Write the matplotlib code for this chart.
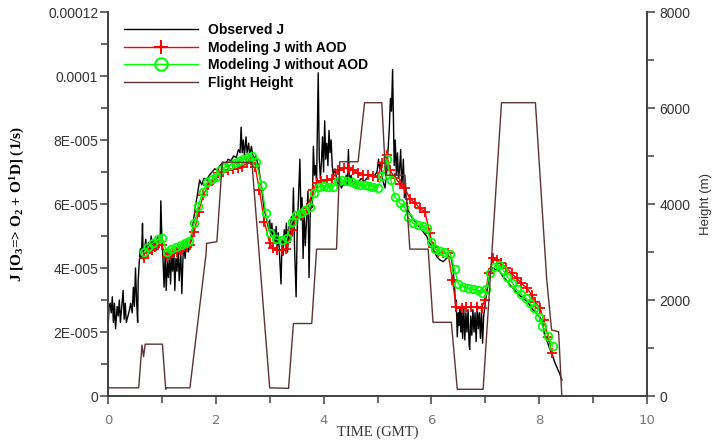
import numpy as np
import matplotlib
matplotlib.use("Agg")
import matplotlib.pyplot as plt
from matplotlib.lines import Line2D
from matplotlib.ticker import MultipleLocator

# observed J (units of 1e-5 1/s)
obs_t = [0.00, 0.02, 0.04, 0.06, 0.08, 0.10, 0.12, 0.14, 0.17, 0.19, 0.21, 0.23, 0.25, 0.28, 0.30,
         0.32, 0.34, 0.37, 0.40, 0.42, 0.45, 0.47, 0.49, 0.51, 0.53, 0.55, 0.56, 0.58, 0.60, 0.62,
         0.64, 0.65, 0.67, 0.70, 0.72, 0.75, 0.78, 0.80, 0.83, 0.86, 0.89, 0.92, 0.95, 0.97, 0.98,
         1.00, 1.02, 1.04, 1.06, 1.08, 1.10, 1.12, 1.14, 1.16, 1.18, 1.20, 1.22, 1.24, 1.26, 1.28,
         1.30, 1.32, 1.35, 1.37, 1.40, 1.43, 1.46, 1.49, 1.52, 1.55, 1.58, 1.62, 1.66, 1.70, 1.74,
         1.78, 1.83, 1.88, 1.93, 1.98, 2.03, 2.08, 2.13, 2.18, 2.23, 2.28, 2.33, 2.38, 2.42, 2.45,
         2.47, 2.49, 2.51, 2.53, 2.56, 2.58, 2.61, 2.63, 2.66, 2.70, 2.74, 2.79, 2.85, 2.90, 2.95,
         2.98, 3.00, 3.02, 3.04, 3.06, 3.08, 3.10, 3.12, 3.14, 3.16, 3.18, 3.21, 3.23, 3.25, 3.27,
         3.29, 3.31, 3.33, 3.36, 3.38, 3.40, 3.42, 3.44, 3.46, 3.49, 3.51, 3.53, 3.56, 3.58, 3.60,
         3.62, 3.64, 3.66, 3.68, 3.71, 3.73, 3.75, 3.77, 3.79, 3.81, 3.83, 3.85, 3.87, 3.90, 3.92,
         3.94, 3.96, 3.98, 4.00, 4.02, 4.04, 4.06, 4.08, 4.10, 4.12, 4.14, 4.16, 4.18, 4.21, 4.24,
         4.27, 4.30, 4.33, 4.36, 4.39, 4.42, 4.44, 4.46, 4.48, 4.51, 4.55, 4.58, 4.61, 4.65, 4.70,
         4.75, 4.80, 4.85, 4.90, 4.95, 4.99, 5.02, 5.04, 5.06, 5.09, 5.12, 5.14, 5.17, 5.20, 5.22,
         5.24, 5.26, 5.28, 5.30, 5.31, 5.33, 5.35, 5.37, 5.39, 5.41, 5.43, 5.45, 5.48, 5.50, 5.52,
         5.54, 5.57, 5.60, 5.63, 5.67, 5.72, 5.76, 5.80, 5.86, 5.91, 5.96, 6.00, 6.04, 6.10, 6.16,
         6.22, 6.28, 6.33, 6.37, 6.40, 6.43, 6.45, 6.46, 6.48, 6.50, 6.51, 6.53, 6.55, 6.56, 6.58,
         6.60, 6.62, 6.64, 6.66, 6.68, 6.70, 6.71, 6.73, 6.75, 6.77, 6.79, 6.81, 6.83, 6.85, 6.87,
         6.89, 6.91, 6.93, 6.95, 6.97, 7.00, 7.04, 7.08, 7.13, 7.20, 7.26, 7.32, 7.40, 7.46, 7.55,
         7.63, 7.71, 7.80, 7.88, 7.95, 8.02, 8.06, 8.10, 8.15, 8.19, 8.24, 8.29, 8.34, 8.38, 8.42]
obs_j = [2.1, 2.8, 2.9, 2.6, 3.1, 2.3, 2.9, 2.1, 2.8, 2.5, 3.0, 2.3, 2.7, 3.3, 2.4,
         2.9, 2.3, 2.5, 2.7, 2.9, 2.6, 3.4, 2.8, 4.0, 3.0, 2.3, 3.6, 4.2, 4.6, 4.3,
         5.4, 4.6, 4.4, 4.9, 4.5, 4.8, 4.6, 5.0, 4.7, 4.9, 4.6, 5.0, 4.7, 5.0, 6.1,
         4.9, 4.3, 3.4, 4.4, 3.3, 4.2, 3.7, 4.5, 3.5, 4.4, 3.9, 4.6, 3.3, 4.3, 3.9,
         4.7, 3.6, 4.5, 3.2, 4.8, 4.3, 4.9, 4.5, 4.7, 5.0, 5.4, 5.9, 6.3, 6.75, 6.6,
         6.8, 6.75, 6.9, 7.0, 7.1, 7.05, 7.2, 7.3, 7.25, 7.4, 7.35, 7.5, 7.45, 7.7, 7.6,
         8.4, 7.6, 8.0, 7.5, 8.1, 7.6, 7.9, 7.5, 7.8, 7.4, 7.5, 7.2, 6.5, 5.8, 5.5,
         5.2, 5.5, 5.0, 5.4, 4.9, 5.2, 4.8, 5.3, 4.6, 5.1, 4.5, 3.5, 4.9, 4.4, 5.2,
         4.8, 5.4, 4.5, 5.3, 4.8, 5.6, 5.0, 6.5, 4.7, 3.1, 5.2, 6.0, 7.4, 5.5, 6.2,
         4.3, 5.8, 4.7, 5.4, 6.4, 3.7, 5.6, 6.2, 5.9, 7.8, 6.9, 7.2, 6.7, 10.1, 7.4,
         6.8, 7.3, 8.1, 7.0, 8.6, 7.4, 7.9, 7.2, 8.3, 7.6, 8.0, 7.2, 6.9, 7.1, 6.8,
         6.6, 6.7, 6.5, 6.6, 6.6, 6.9, 6.6, 7.7, 6.7, 6.9, 6.6, 6.7, 6.5, 6.7, 6.8,
         6.7, 6.8, 6.9, 6.9, 6.9, 7.0, 7.4, 7.1, 7.3, 6.8, 6.6, 6.5, 7.0, 7.8, 8.4,
         9.3, 8.9, 10.2, 8.3, 7.2, 8.0, 6.9, 7.6, 6.8, 7.1, 7.7, 6.5, 7.4, 6.2, 6.5,
         6.1, 5.8, 5.7, 5.6, 5.5, 5.4, 5.3, 5.25, 5.1, 5.0, 4.8, 4.7, 4.55, 4.35, 4.25,
         4.2, 4.3, 4.35, 4.3, 4.0, 3.4, 2.7, 3.0, 1.85, 2.6, 2.2, 2.8, 2.0, 2.6, 1.8,
         2.8, 1.75, 2.6, 2.0, 2.7, 1.6, 1.45, 2.5, 1.9, 2.7, 2.0, 2.6, 1.7, 2.8, 2.1,
         2.6, 1.8, 2.7, 1.65, 2.5, 2.9, 3.4, 3.8, 4.0, 3.95, 3.9, 3.75, 3.6, 3.47, 3.3,
         3.15, 3.05, 2.9, 2.7, 2.58, 2.45, 2.3, 1.9, 1.7, 1.5, 1.3, 1.05, 0.85, 0.7, 0.5]

# modeled J with AOD (1e-5 1/s)
aod_t = [0.675, 0.75, 0.81, 0.87, 0.93, 0.995, 1.09, 1.15, 1.21, 1.28, 1.34, 1.40, 1.46, 1.52,
         1.60, 1.68, 1.77, 1.86, 1.95, 2.05, 2.14, 2.23, 2.32, 2.42, 2.48, 2.57, 2.66, 2.73,
         2.81, 2.90, 3.00, 3.07, 3.13, 3.22, 3.31, 3.41, 3.50, 3.59, 3.69, 3.81, 3.87, 3.96,
         4.06, 4.15, 4.27, 4.37, 4.46, 4.55, 4.64, 4.74, 4.83, 4.92, 5.01, 5.08, 5.17, 5.23,
         5.33, 5.42, 5.51, 5.60, 5.70, 5.79, 5.88, 5.97, 6.03, 6.13, 6.22, 6.31, 6.39, 6.46,
         6.56, 6.65, 6.74, 6.84, 6.93, 6.99, 7.06, 7.15, 7.22, 7.30, 7.39, 7.49, 7.58, 7.67,
         7.77, 7.86, 7.92, 8.02, 8.08, 8.17, 8.23]
aod_j = [4.30, 4.46, 4.56, 4.67, 4.72, 4.72, 4.35, 4.41, 4.46, 4.51, 4.56, 4.61, 4.67, 4.72,
         5.13, 5.76, 6.28, 6.59, 6.75, 6.96, 7.01, 7.06, 7.08, 7.11, 7.17, 7.27, 7.38, 7.17,
         6.44, 5.45, 4.77, 4.61, 4.56, 4.56, 4.58, 5.19, 5.60, 5.66, 5.86, 6.44, 6.67, 6.73,
         6.75, 6.77, 7.06, 7.11, 7.11, 7.06, 6.96, 6.90, 6.90, 6.88, 6.85, 7.27, 7.53, 7.06,
         6.80, 6.64, 6.49, 6.17, 6.02, 5.86, 5.76, 5.08, 4.67, 4.51, 4.48, 4.46, 3.63, 2.77,
         2.74, 2.77, 2.77, 2.77, 2.74, 3.00, 3.83, 4.30, 4.25, 4.15, 4.00, 3.83, 3.68, 3.52,
         3.37, 3.16, 2.95, 2.74, 2.38, 1.85, 1.35]

# modeled J without AOD (1e-5 1/s)
noaod_t = [0.668, 0.748, 0.84, 0.933, 1.007, 1.089, 1.169, 1.262, 1.349, 1.429, 1.508, 1.60,
           1.675, 1.757, 1.842, 1.924, 2.004, 2.078, 2.171, 2.263, 2.356, 2.436, 2.51, 2.59,
           2.666, 2.746, 2.85, 2.926, 3.01, 3.11, 3.22, 3.32, 3.41, 3.49, 3.58, 3.65, 3.75,
           3.83, 3.92, 4.01, 4.09, 4.17, 4.26, 4.35, 4.44, 4.52, 4.60, 4.68, 4.76, 4.84, 4.92,
           5.00, 5.09, 5.17, 5.25, 5.32, 5.42, 5.50, 5.57, 5.66, 5.76, 5.84, 5.91, 5.99, 6.07,
           6.16, 6.24, 6.35, 6.43, 6.50, 6.59, 6.68, 6.78, 6.86, 6.93, 7.01, 7.09, 7.17, 7.25,
           7.33, 7.41, 7.50, 7.58, 7.66, 7.75, 7.83, 7.91, 8.00, 8.06, 8.17, 8.25]
noaod_j = [4.49, 4.67, 4.79, 4.90, 4.93, 4.51, 4.59, 4.67, 4.72, 4.77, 4.84, 5.40,
           5.94, 6.38, 6.68, 6.77, 6.85, 7.06, 7.17, 7.22, 7.27, 7.34, 7.40, 7.48,
           7.50, 7.32, 6.59, 5.73, 5.08, 4.90, 4.88, 4.93, 5.45, 5.66, 5.73, 5.81, 5.92,
           6.33, 6.54, 6.56, 6.54, 6.52, 6.73, 6.75, 6.73, 6.70, 6.64, 6.60, 6.59, 6.57, 6.54,
           6.51, 6.88, 7.40, 6.75, 6.23, 6.02, 5.92, 5.58, 5.40, 5.34, 5.30, 5.24, 4.82, 4.58,
           4.54, 4.51, 4.44, 3.96, 3.50, 3.42, 3.37, 3.33, 3.31, 3.23, 3.34, 3.83, 4.04, 4.09,
           3.94, 3.73, 3.54, 3.33, 3.19, 3.05, 2.90, 2.74, 2.48, 2.19, 1.88, 1.56]

# flight height (m)
fh_t = [0.0, 0.57, 0.63, 0.66, 0.69, 1.01, 1.07, 1.09, 1.52, 1.82, 1.83, 2.02, 2.12, 2.67,
        3.00, 3.35, 3.44, 3.78, 3.87, 4.24, 4.30, 4.64, 4.76, 5.08, 5.15, 5.51, 5.60, 5.94,
        6.03, 6.37, 6.48, 6.96, 7.30, 7.93, 8.05, 8.14, 8.23, 8.36, 8.42]
fh_h = [170, 170, 1060, 820, 1080, 1080, 140, 170, 170, 2970, 3180, 3215, 4870, 4870,
        170, 160, 1510, 1510, 3060, 3060, 4880, 4880, 6110, 6110, 4600, 4600, 3060, 3060,
        1535, 1535, 140, 140, 6110, 6110, 3980, 2420, 1375, 1340, 0]

j_ticks = [0, 2e-5, 4e-5, 6e-5, 8e-5, 1e-4, 1.2e-4]
j_ticklabels = ["0", "2E-005", "4E-005", "6E-005", "8E-005", "0.0001", "0.00012"]
h_ticks = [0, 2000, 4000, 6000, 8000]
x_ticks = [0, 2, 4, 6, 8, 10]

plt.rcParams['mathtext.fontset'] = 'custom'
plt.rcParams['mathtext.rm'] = 'Liberation Serif:bold'
plt.rcParams['mathtext.default'] = 'rm'

spine_c = '#404040'
brown = '#5e3232'

fig = plt.figure(figsize=(7.15, 4.43), dpi=100)
ax = fig.add_axes([108 / 715, 47 / 443, 539 / 715, 384 / 443])
ax2 = ax.twinx()

ax.plot(obs_t, np.array(obs_j) * 1e-5, color='black', lw=1.0)
ax.plot(aod_t, np.array(aod_j) * 1e-5, color='#ff0000', lw=1.0, marker='+',
        markersize=7, markeredgewidth=1.3)
ax.plot(noaod_t, np.array(noaod_j) * 1e-5, color='#00ff00', lw=1.0, marker='o',
        markersize=5.5, markerfacecolor='none', markeredgewidth=1.3)
ax2.plot(fh_t, fh_h, color=brown, lw=1.0)

ax.set_xlim(0, 10)
ax.set_ylim(0, 1.2e-4)
ax2.set_ylim(0, 8000)

ax.set_xticks(x_ticks)
ax.xaxis.set_minor_locator(MultipleLocator(1))
ax.set_yticks(j_ticks)
ax.set_yticklabels(j_ticklabels)
ax.yaxis.set_minor_locator(MultipleLocator(1e-5))
ax2.set_yticks(h_ticks)
ax2.yaxis.set_minor_locator(MultipleLocator(1000))

for a in (ax, ax2):
    a.spines['top'].set_visible(False)
    for s in ('left', 'right', 'bottom'):
        a.spines[s].set_color(spine_c)
        a.spines[s].set_linewidth(1.2)
ax.tick_params(axis='both', which='both', direction='out', color=spine_c, width=1.1)
ax.tick_params(axis='both', which='major', length=6)
ax.tick_params(axis='both', which='minor', length=5)
ax.tick_params(axis='y', labelsize=10, pad=1, labelcolor='#333333')
ax.tick_params(axis='x', labelsize=9.5, pad=7, labelcolor='#777777')
ax2.tick_params(axis='y', which='both', direction='out', color=spine_c, width=1.1,
                labelsize=10, pad=3, labelcolor='#333333')
ax2.tick_params(axis='y', which='major', length=6)
ax2.tick_params(axis='y', which='minor', length=5)
for lab in ax.get_yticklabels() + ax2.get_yticklabels():
    lab.set_fontfamily('Liberation Sans')

ax.set_xlabel('TIME (GMT)', fontfamily='Liberation Serif', fontsize=10.5, color='#333333')
ax.xaxis.set_label_coords(0.5, -0.078)
ax.set_ylabel(r'J [O$_3$=> O$_2$ + O$^1$D] (1/s)', fontfamily='Liberation Serif',
              fontweight='bold', fontsize=11)
ax.yaxis.set_label_coords(-0.15, 0.5)
ax2.set_ylabel('Height (m)', fontfamily='Liberation Sans', fontsize=9.5, color='#333333')
ax2.yaxis.set_label_coords(1.099, 0.5)

handles = [
    Line2D([], [], color='black', lw=1.0),
    Line2D([], [], color='#ff0000', lw=1.0, marker='+', markersize=10, markeredgewidth=1.5),
    Line2D([], [], color='#00ff00', lw=1.0, marker='o', markersize=9, markerfacecolor='none',
           markeredgewidth=1.5),
    Line2D([], [], color=brown, lw=1.0),
]
labels = ['Observed J', 'Modeling J with AOD', 'Modeling J without AOD', 'Flight Height']
ax2.legend(handles, labels, loc='upper left', bbox_to_anchor=(0.02, 0.985), frameon=False,
           prop={'family': 'Liberation Sans', 'weight': 'bold', 'size': 10},
           handlelength=5.3, handletextpad=0.7, labelspacing=0.25, borderaxespad=0)

fig.savefig('out.png', dpi=100)
